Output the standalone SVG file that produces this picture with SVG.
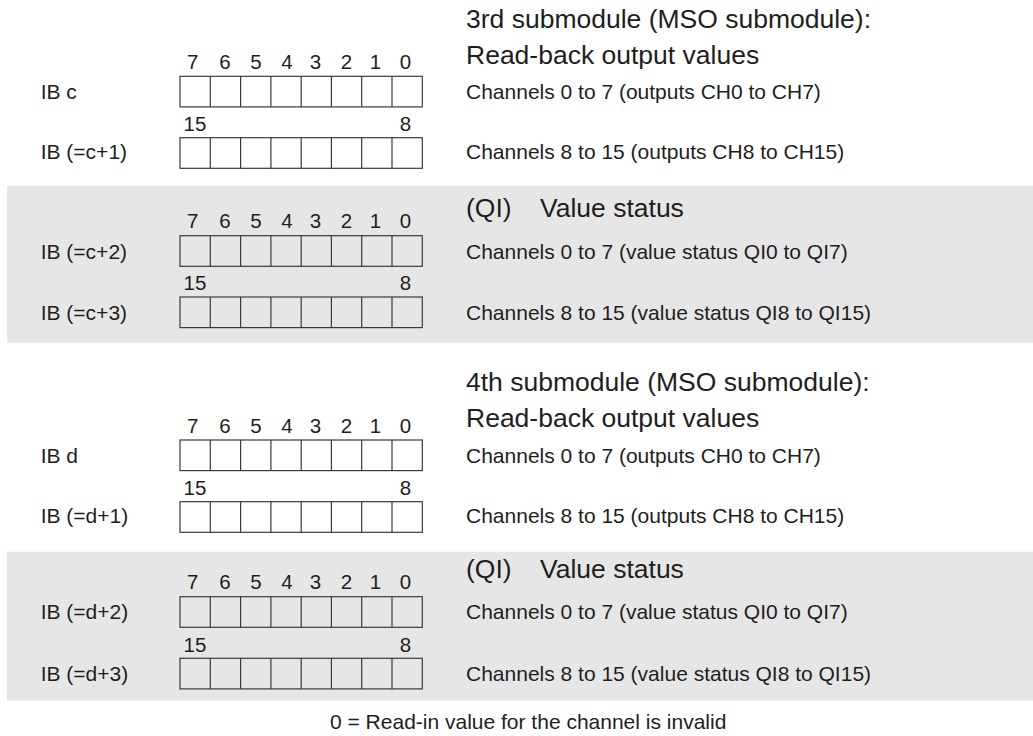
<svg xmlns="http://www.w3.org/2000/svg" xmlns:xlink="http://www.w3.org/1999/xlink" width="1033" height="736" viewBox="0 0 1033 736">
<style>
  text { font-family: "Liberation Sans", Arial, sans-serif; fill: #1e1e1e; }
  .t { font-size: 21px; }
  .h { font-size: 26.5px; }
  .d { font-size: 20.5px; text-anchor: middle; }
  .band { fill: #e6e6e6; }
  .cell { fill: none; stroke: #3a3a3a; stroke-width: 1.2; }
</style>
<defs>
  <g id="byte">
    <rect class="cell" x="0" y="0" width="242.3" height="30.6"/>
    <path class="cell" d="M30.3 0V30.6M60.6 0V30.6M90.9 0V30.6M121.2 0V30.6M151.4 0V30.6M181.7 0V30.6M212 0V30.6"/>
  </g>
  <g id="bits0">
    <text class="d" x="192.8">7</text><text class="d" x="225">6</text><text class="d" x="256">5</text><text class="d" x="287">4</text><text class="d" x="315.5">3</text><text class="d" x="346.5">2</text><text class="d" x="375.5">1</text><text class="d" x="405.5">0</text>
  </g>
  <g id="bits8">
    <text class="d" x="195">15</text><text class="d" x="405.5">8</text>
  </g>
</defs>

<rect class="band" x="7" y="186" width="1026" height="156.7"/>
<rect class="band" x="7" y="551.7" width="1026" height="149"/>

<g id="sub3">
  <text class="h" x="466" y="27.5">3rd submodule (MSO submodule):</text>
  <text class="h" x="466" y="63.5">Read-back output values</text>
  <use xlink:href="#bits0" y="69"/>
  <text class="t" x="40.7" y="99">IB c</text>
  <use xlink:href="#byte" x="180" y="76.3"/>
  <text class="t" x="466" y="99">Channels 0 to 7 (outputs CH0 to CH7)</text>
  <use xlink:href="#bits8" y="130.7"/>
  <text class="t" x="40.7" y="159">IB (=c+1)</text>
  <use xlink:href="#byte" x="180" y="137.7"/>
  <text class="t" x="466" y="159">Channels 8 to 15 (outputs CH8 to CH15)</text>
</g>

<g id="qi3">
  <text class="h" x="466" y="216.5">(QI)<tspan x="540">Value status</tspan></text>
  <use xlink:href="#bits0" y="228.4"/>
  <text class="t" x="40.7" y="258.5">IB (=c+2)</text>
  <use xlink:href="#byte" x="180" y="235.7"/>
  <text class="t" x="466" y="258.5">Channels 0 to 7 (value status QI0 to QI7)</text>
  <use xlink:href="#bits8" y="290"/>
  <text class="t" x="40.7" y="319.5">IB (=c+3)</text>
  <use xlink:href="#byte" x="180" y="297"/>
  <text class="t" x="466" y="319.5">Channels 8 to 15 (value status QI8 to QI15)</text>
</g>

<g id="sub4">
  <text class="h" x="466" y="390.5">4th submodule (MSO submodule):</text>
  <text class="h" x="466" y="426.5">Read-back output values</text>
  <use xlink:href="#bits0" y="432.7"/>
  <text class="t" x="40.7" y="462.7">IB d</text>
  <use xlink:href="#byte" x="180" y="440"/>
  <text class="t" x="466" y="462.7">Channels 0 to 7 (outputs CH0 to CH7)</text>
  <use xlink:href="#bits8" y="494.5"/>
  <text class="t" x="40.7" y="523">IB (=d+1)</text>
  <use xlink:href="#byte" x="180" y="501.7"/>
  <text class="t" x="466" y="523">Channels 8 to 15 (outputs CH8 to CH15)</text>
</g>

<g id="qi4">
  <text class="h" x="466" y="577.5">(QI)<tspan x="540">Value status</tspan></text>
  <use xlink:href="#bits0" y="589.4"/>
  <text class="t" x="40.7" y="619">IB (=d+2)</text>
  <use xlink:href="#byte" x="180" y="596.7"/>
  <text class="t" x="466" y="619">Channels 0 to 7 (value status QI0 to QI7)</text>
  <use xlink:href="#bits8" y="651.5"/>
  <text class="t" x="40.7" y="680.5">IB (=d+3)</text>
  <use xlink:href="#byte" x="180" y="658.3"/>
  <text class="t" x="466" y="680.5">Channels 8 to 15 (value status QI8 to QI15)</text>
</g>

<g id="legend">
  <text class="t" x="330" y="729">0 = Read-in value for the channel is invalid</text>
</g>
</svg>
